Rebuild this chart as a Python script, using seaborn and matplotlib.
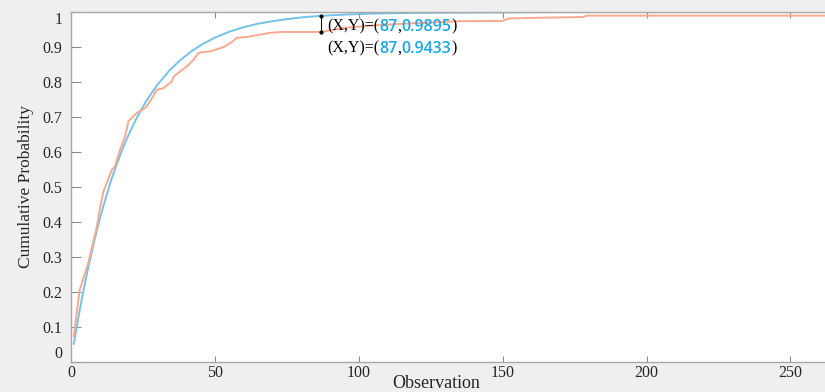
import numpy as np
import pandas as pd
import matplotlib
matplotlib.use("Agg")
import matplotlib.pyplot as plt
import seaborn as sns

# fitted (theoretical) CDF
fit_x = [1, 2, 3, 4, 5, 6, 8, 10, 12, 14, 16, 18, 20, 23, 26, 30, 34, 38, 42, 46,
         50, 55, 60, 65, 70, 75, 80, 87, 95, 105, 120, 140, 170, 262]
fit_y = [0.051, 0.099, 0.145, 0.189, 0.230, 0.270, 0.342, 0.408, 0.466, 0.520,
         0.567, 0.610, 0.649, 0.700, 0.744, 0.792, 0.831, 0.863, 0.889, 0.910,
         0.927, 0.944, 0.957, 0.967, 0.974, 0.980, 0.985, 0.9895, 0.993, 0.996,
         0.998, 0.999, 1.000, 1.000]

emp_x = [1, 3, 6, 9, 10.1, 11.3, 14.2, 15.3, 17.1, 18.8, 20, 22.9, 25.8, 27.5,
         29.9, 32.2, 35.1, 35.6, 38, 40.3, 42.6, 44.4, 48.4, 53, 56, 57.7, 61.2,
         65.9, 69.3, 74, 87, 95, 105, 118, 130, 134, 150, 152, 163, 178, 179, 262]
emp_y = [0.072, 0.205, 0.282, 0.387, 0.440, 0.487, 0.549, 0.559, 0.607, 0.645,
         0.688, 0.712, 0.726, 0.745, 0.778, 0.783, 0.802, 0.815, 0.831, 0.845,
         0.864, 0.884, 0.888, 0.900, 0.915, 0.927, 0.929, 0.936, 0.941, 0.9433,
         0.9433, 0.955, 0.962, 0.968, 0.972, 0.974, 0.975, 0.982, 0.984, 0.986,
         0.990, 0.990]

# data tips
tip_x = 87
tip_fit = 0.9895
tip_emp = 0.9433

sns.set_theme(style="white")
plt.rcParams['font.family'] = ['Liberation Serif', 'DejaVu Serif']

fig = plt.figure(figsize=(8.25, 3.92), dpi=100, facecolor="#efefef")
ax = fig.add_axes([0.086, 0.077, 0.914, 0.892])
ax.set_facecolor("white")

sns.lineplot(x=fit_x, y=fit_y, ax=ax, color="#72c2ea", linewidth=1.4)
sns.lineplot(x=emp_x, y=emp_y, ax=ax, color="#f9a98f", linewidth=1.4)

# data tip markers
ax.plot([tip_x, tip_x], [tip_emp, tip_fit], color="black", linewidth=0.7)
ax.plot([tip_x, tip_x], [tip_emp, tip_fit], "o", color="black", markersize=2)

blue = "#1aa7e6"
for ty, val in [(0.958, tip_fit), (0.895, tip_emp)]:
    parts = [("(X,Y)=(", "black"), (str(tip_x), blue), (",", "black"),
             (f"{val:.4f}", blue), (")", "black")]
    t = ax.text(89.0, ty, parts[0][0], color=parts[0][1], fontsize=11.5,
                va="center", ha="left")
    for s, c in parts[1:]:
        if c == blue:
            t = ax.annotate(s, xy=(1, 0), xycoords=t, color=c, va="bottom",
                            ha="left", fontsize=11.5, fontweight="semibold",
                            family=['Open Sans', 'DejaVu Sans'])
        else:
            t = ax.annotate(s, xy=(1, 0), xycoords=t, color=c, va="bottom",
                            ha="left", fontsize=11.5)

ax.set_xlim(0, 262)
ax.set_ylim(0, 1)
ax.set_xticks([0, 50, 100, 150, 200, 250])
ax.set_yticks(np.arange(0, 1.01, 0.1))
ax.set_yticklabels(["0", "0.1", "0.2", "0.3", "0.4", "0.5", "0.6", "0.7",
                    "0.8", "0.9", "1"])

ax.tick_params(axis="y", direction="in", length=7, width=0.8, color="#8a8a8a",
               labelsize=11.5, pad=6, left=True)
ax.tick_params(axis="x", direction="in", length=4, width=0.8, color="#8a8a8a",
               labelsize=11.5, pad=2, bottom=True, top=True)
ylabels = ax.get_yticklabels()
ylabels[0].set_va("bottom")
ylabels[-1].set_va("top")
for s in ax.spines.values():
    s.set_color("#a8a8a8")
    s.set_linewidth(1.0)
ax.spines["right"].set_visible(False)

ax.set_ylabel("Cumulative Probability", fontsize=12.5, labelpad=6)
ax.set_xlabel("Observation", fontsize=13)
ax.xaxis.set_label_coords(0.484, -0.038)

fig.savefig("out.png", dpi=100, facecolor=fig.get_facecolor())
